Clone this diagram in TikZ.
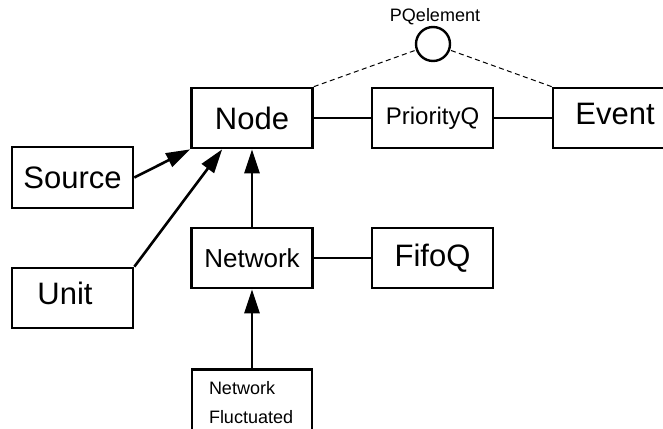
\documentclass[tikz,border=0pt]{standalone}
\usepackage{fontspec}
\setmainfont{Liberation Sans}
\usetikzlibrary{arrows.meta}

\begin{document}
\begin{tikzpicture}[x=1pt,y=-1pt,
  box/.style={draw,line width=2.7pt,minimum width=121pt,minimum height=60pt,inner sep=0pt},
  big/.style={font=\fontsize{31}{37}\selectfont},
  link/.style={line width=2.6pt},
  inherit/.style={line width=2.6pt,-{Triangle[length=24pt,width=15pt]}},
  assoc/.style={line width=1pt,dash pattern=on 5pt off 3.5pt}]
\useasboundingbox (0,0) rectangle (663,428);
\clip (0,0) rectangle (663,428);

% class boxes
\node[box,big] (node) at (252,118) {Node};
\node[box,font=\fontsize{24}{29}\selectfont] (pq) at (432.5,118) {PriorityQ};
\node[box,big,minimum width=124pt,text depth=9pt] (event) at (615,118) {Event};
\node[box,big,minimum height=61pt] (source) at (72.5,177.5) {Source};
\node[box,big,text depth=10pt] (unit) at (72.5,298) {Unit\hspace*{15pt}};
\node[box,font=\fontsize{26}{31}\selectfont] (network) at (252,258) {Network};
\node[box,big] (fifo) at (432.5,258) {FifoQ};
\node[draw,line width=2.7pt,anchor=north,text width=86pt,align=left,
      inner xsep=17pt,inner ysep=12pt,
      font=\fontsize{18}{29}\selectfont] (nf) at (252,368) {Network\\Fluctuated};

% queue element marker
\node[circle,draw,line width=2.4pt,minimum size=34pt,inner sep=0pt] (pqe) at (433,44) {};
\node[anchor=base,inner sep=0pt,font=\fontsize{18}{22}\selectfont] (pqetext) at (435,22) {PQelement};

% associations
\draw[link] (node.east) -- (pq.west);
\draw[link] (pq.east) -- (event.west);
\draw[link] (network.east) -- (fifo.west);
\draw[assoc] (node.north east) -- (pqe);
\draw[assoc] (event.north west) -- (pqe);

% inheritance
\draw[inherit] (source.east) -- (node.south west);
\draw[inherit] (unit.north east) -- ([xshift=32pt]node.south west);
\draw[inherit] (network.north) -- (node.south);
\draw[inherit] (nf.north) -- (network.south);
\end{tikzpicture}
\end{document}
